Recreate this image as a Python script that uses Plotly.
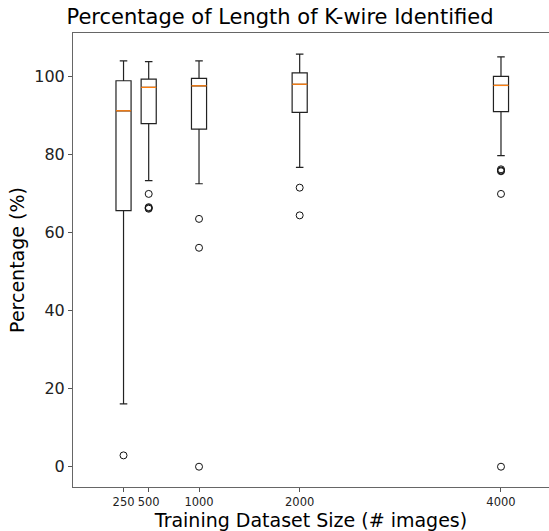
import plotly.graph_objects as go

# ---- data ----
sizes = [250, 500, 1000, 2000, 4000]
q1 = [65.6, 87.9, 86.5, 90.8, 91.0]
median = [91.2, 97.2, 97.6, 98.0, 97.7]
q3 = [98.9, 99.3, 99.5, 100.9, 100.0]
lower_whisker = [16.1, 73.3, 72.5, 76.7, 79.7]
upper_whisker = [104.0, 103.8, 104.0, 105.7, 105.0]
outliers_250 = [2.9]
outliers_500 = [69.9, 66.5, 66.3, 66.1]
outliers_1000 = [63.5, 56.1, 0.0]
outliers_2000 = [71.5, 64.4]
outliers_4000 = [76.2, 75.9, 75.7, 69.9, 0.0]
tick_labels = ["250", "500", "1000", "2000", "4000"]

outliers = [outliers_250, outliers_500, outliers_1000, outliers_2000, outliers_4000]
BOX_W = 150

fig = go.Figure()
fig.add_trace(go.Box(
    x=sizes, q1=q1, median=median, q3=q3,
    lowerfence=lower_whisker, upperfence=upper_whisker,
    width=BOX_W, whiskerwidth=0.5,
    line=dict(color="#222222", width=1.2),
    fillcolor="rgba(255,255,255,0)",
    boxpoints=False, showlegend=False, hoverinfo="skip",
))

# orange median lines
mx, my = [], []
for s, m in zip(sizes, median):
    mx += [s - BOX_W / 2, s + BOX_W / 2, None]
    my += [m, m, None]
fig.add_trace(go.Scatter(x=mx, y=my, mode="lines",
                         line=dict(color="#ff7f0e", width=1.3),
                         showlegend=False, hoverinfo="skip"))

# fliers
fx, fy = [], []
for s, pts in zip(sizes, outliers):
    fx += [s] * len(pts)
    fy += pts
fig.add_trace(go.Scatter(x=fx, y=fy, mode="markers",
                         marker=dict(symbol="circle-open", size=7,
                                     color="#111111", line=dict(width=1)),
                         showlegend=False, hoverinfo="skip"))

font_family = "DejaVu Sans"
fig.update_layout(
    width=549, height=531,
    margin=dict(l=73, r=0, t=33, b=44),
    paper_bgcolor="white", plot_bgcolor="white",
    font=dict(family=font_family, color="black"),
    title=dict(text="Percentage of Length of K-wire Identified",
               x=280 / 549, xanchor="center", xref="container",
               y=1 - 17 / 531, yanchor="middle",
               font=dict(size=21, family=font_family, color="black")),
    showlegend=False,
)
fig.update_xaxes(
    range=[-252, 4477],
    tickmode="array", tickvals=sizes, ticktext=tick_labels,
    tickfont=dict(size=11.5, color="#222"),
    ticks="outside", ticklen=4, tickcolor="#555", tickwidth=1,
    showline=True, linecolor="#666", linewidth=1, mirror=True,
    showgrid=False, zeroline=False,
    title=dict(text="Training Dataset Size (# images)",
               font=dict(size=19, color="black"), standoff=0),
)
fig.update_yaxes(
    range=[-5.2, 111.13],
    tickmode="array", tickvals=[0, 20, 40, 60, 80, 100],
    tickfont=dict(size=16, color="#222"),
    ticks="outside", ticklen=4, tickcolor="#555", tickwidth=1,
    showline=True, linecolor="#666", linewidth=1, mirror=False,
    showgrid=False, zeroline=False,
    title=dict(text="Percentage (%)", font=dict(size=19, color="black"),
               standoff=4),
)

fig.write_html("out.html")
